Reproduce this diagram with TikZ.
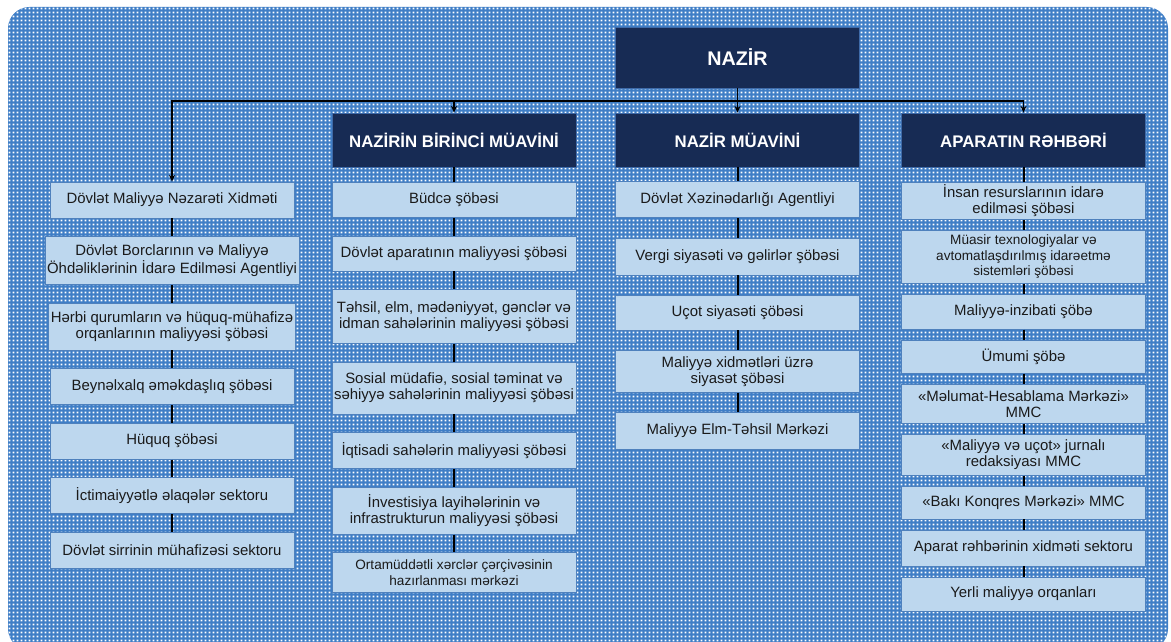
\documentclass[tikz,border=0pt]{standalone}
\usepackage{fontspec}
\setmainfont{Liberation Sans}
\usepackage{xcolor}
\usepackage{tikz}
\usetikzlibrary{arrows.meta, positioning, patterns.meta}
\definecolor{headnavy}{HTML}{172B54}
\definecolor{headedge}{HTML}{3E6AA8}
\definecolor{unitfill}{HTML}{BDD7EE}
\definecolor{unitedge}{HTML}{4F81BD}
\definecolor{bgblue}{HTML}{3F7EC6}
\definecolor{unittext}{HTML}{1A1A1A}
\tikzdeclarepattern{name=bgweave, type=uncolored,
  bounding box={(0pt,0pt) and (3pt,3pt)}, tile size={(3pt,3pt)},
  code={\fill (0.7pt,0.7pt) rectangle (2.3pt,2.3pt);}}
\tikzstyle{headbox} = [rectangle, minimum width=183pt, minimum height=40.5pt,
  text centered, draw=headedge, fill=headnavy, text=white,
  font=\fontsize{12.6}{14}\selectfont\bfseries, line width=0.6pt]
\tikzstyle{topbox} = [headbox, minimum height=45.75pt, font=\fontsize{14.8}{16}\selectfont\bfseries]
\tikzstyle{unitbox} = [rectangle, minimum width=183pt, minimum height=27pt, align=center,
  draw=unitedge, fill=unitfill, text=unittext, font=\fontsize{11.2}{12}\selectfont,
  line width=0.6pt, inner sep=1.5pt]
\tikzstyle{smallbox} = [unitbox, font=\fontsize{10.2}{11.6}\selectfont]
\tikzstyle{link} = [line width=1.5pt, black]
\tikzstyle{arrow} = [line width=0.9pt, black, -{Stealth[length=5pt,width=4.5pt]}]

\begin{document}
\begin{tikzpicture}[x=0.75pt, y=-0.75pt, node distance=13.3pt]
  \useasboundingbox (0,0) rectangle (1171,642);
  % background
  \fill[bgblue, rounded corners=16pt] (8,7) rectangle (1168,650);
  \fill[pattern=bgweave, pattern color=white, rounded corners=16pt] (8,7) rectangle (1168,650);

  % heads
  \node (nazir)   [topbox]  at (737.5,57.5)  {NAZİR};
  \node (birinci) [headbox] at (454,140)     {NAZİRİN BİRİNCİ MÜAVİNİ};
  \node (muavin)  [headbox] at (737.5,140)   {NAZİR MÜAVİNİ};
  \node (rehber)  [headbox] at (1023.5,140)  {APARATIN RƏHBƏRİ};
  \coordinate (bar) at (737.5,101);

  % column 1
  \node (nezaret)    [unitbox] at (172,200) {Dövlət Maliyyə Nəzarəti Xidməti};
  \node (borc)       [unitbox, below=of nezaret, minimum height=36pt]
    {Dövlət Borclarının və Maliyyə\\Öhdəliklərinin İdarə Edilməsi Agentliyi};
  \node (herbi)      [unitbox, below=of borc, minimum height=35.25pt]
    {Hərbi qurumların və hüquq-mühafizə\\orqanlarının maliyyəsi şöbəsi};
  \node (beynelxalq) [unitbox, below=of herbi]      {Beynəlxalq əməkdaşlıq şöbəsi};
  \node (huquq)      [unitbox, below=of beynelxalq] {Hüquq şöbəsi};
  \node (ictimai)    [unitbox, below=of huquq]      {İctimaiyyətlə əlaqələr sektoru};
  \node (sirr)       [unitbox, below=of ictimai]    {Dövlət sirrinin mühafizəsi sektoru};

  % column 2
  \node (budce)    [unitbox, below=11pt of birinci, minimum height=26.25pt] {Büdcə şöbəsi};
  \node (aparat)   [unitbox, below=of budce, minimum height=26.25pt] {Dövlət aparatının maliyyəsi şöbəsi};
  \node (tehsil)   [unitbox, below=of aparat, minimum height=40.5pt]
    {Təhsil, elm, mədəniyyət, gənclər və\\idman sahələrinin maliyyəsi şöbəsi};
  \node (sosial)   [unitbox, below=of tehsil, minimum height=39pt]
    {Sosial müdafiə, sosial təminat və\\səhiyyə sahələrinin maliyyəsi şöbəsi};
  \node (iqtisadi) [unitbox, below=of sosial] {İqtisadi sahələrin maliyyəsi şöbəsi};
  \node (investisiya) [unitbox, below=of iqtisadi, minimum height=35.25pt]
    {İnvestisiya layihələrinin və\\infrastrukturun maliyyəsi şöbəsi};
  \node (ortamuddetli) [smallbox, below=of investisiya, minimum height=30pt]
    {Ortamüddətli xərclər çərçivəsinin\\hazırlanması mərkəzi};

  % column 3
  \node (xezine)    [unitbox, below=10.5pt of muavin] {Dövlət Xəzinədarlığı Agentliyi};
  \node (vergi)     [unitbox, below=14.5pt of xezine, minimum height=27.75pt] {Vergi siyasəti və gəlirlər şöbəsi};
  \node (ucot)      [unitbox, below=14.5pt of vergi, minimum height=26.25pt] {Uçot siyasəti şöbəsi};
  \node (xidmet)    [unitbox, below=14.5pt of ucot, minimum height=31.5pt]
    {Maliyyə xidmətləri üzrə\\siyasət şöbəsi};
  \node (elmtehsil) [unitbox, below=14.5pt of xidmet, minimum height=27.75pt] {Maliyyə Elm-Təhsil Mərkəzi};

  % column 4
  \node (insan)    [unitbox, below=11pt of rehber, minimum height=27.75pt]
    {İnsan resurslarının idarə\\edilməsi şöbəsi};
  \node (texno)    [smallbox, below=7.6pt of insan, minimum height=39.75pt]
    {Müasir texnologiyalar və\\avtomatlaşdırılmış idarəetmə\\sistemləri şöbəsi};
  \node (inzibati) [unitbox, below=7.6pt of texno, minimum height=26.25pt] {Maliyyə-inzibati şöbə};
  \node (umumi)    [unitbox, below=7.6pt of inzibati, minimum height=24.75pt] {Ümumi şöbə};
  \node (melumat)  [unitbox, below=7.6pt of umumi, minimum height=29.25pt]
    {«Məlumat-Hesablama Mərkəzi»\\MMC};
  \node (jurnal)   [unitbox, below=7.6pt of melumat, minimum height=30.75pt]
    {«Maliyyə və uçot» jurnalı\\redaksiyası MMC};
  \node (konqres)  [unitbox, below=7.6pt of jurnal, minimum height=24.75pt] {«Bakı Konqres Mərkəzi» MMC};
  \node (xidmetsek) [unitbox, below=7.6pt of konqres] {Aparat rəhbərinin xidməti sektoru};
  \node (yerli)    [unitbox, below=7.6pt of xidmetsek, minimum height=25.5pt] {Yerli maliyyə orqanları};

  % top links
  \draw[line width=0.9pt] (nazir) -- (bar);
  \draw[arrow] (bar) -| (nezaret);
  \draw[arrow] (bar) -| (birinci);
  \draw[arrow] (bar) -- (muavin);
  \draw[arrow] (bar) -| (rehber);

  % column links
  \draw[link] (nezaret) -- (borc);
  \draw[link] (borc) -- (herbi);
  \draw[link] (herbi) -- (beynelxalq);
  \draw[link] (beynelxalq) -- (huquq);
  \draw[link] (huquq) -- (ictimai);
  \draw[link] (ictimai) -- (sirr);

  \draw[link] (birinci) -- (budce);
  \draw[link] (budce) -- (aparat);
  \draw[link] (aparat) -- (tehsil);
  \draw[link] (tehsil) -- (sosial);
  \draw[link] (sosial) -- (iqtisadi);
  \draw[link] (iqtisadi) -- (investisiya);
  \draw[link] (investisiya) -- (ortamuddetli);

  \draw[link] (muavin) -- (xezine);
  \draw[link] (xezine) -- (vergi);
  \draw[link] (vergi) -- (ucot);
  \draw[link] (ucot) -- (xidmet);
  \draw[link] (xidmet) -- (elmtehsil);

  \draw[link] (rehber) -- (insan);
  \draw[link] (insan) -- (texno);
  \draw[link] (texno) -- (inzibati);
  \draw[link] (inzibati) -- (umumi);
  \draw[link] (umumi) -- (melumat);
  \draw[link] (melumat) -- (jurnal);
  \draw[link] (jurnal) -- (konqres);
  \draw[link] (konqres) -- (xidmetsek);
  \draw[link] (xidmetsek) -- (yerli);
\end{tikzpicture}
\end{document}
